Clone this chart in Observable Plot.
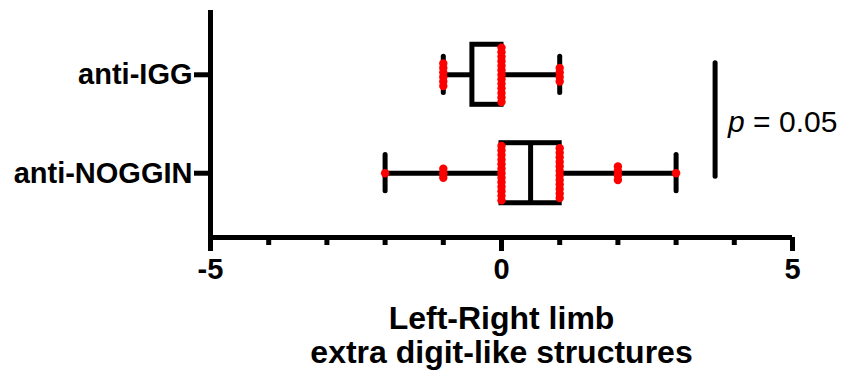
<!DOCTYPE html>
<html>
<head>
<meta charset="utf-8">
<script src="https://cdn.jsdelivr.net/npm/d3@7"></script>
<script src="https://cdn.jsdelivr.net/npm/@observablehq/plot@0.6"></script>
<style>
  html, body { margin: 0; padding: 0; background: #fff; }
</style>
</head>
<body>
<div id="chart"></div>
<script>
// Groups, top to bottom
const groups = ["anti-IGG", "anti-NOGGIN"];

// Left-right difference in extra digit-like structures, one value per embryo
const antiIGG = [
  -1, -1, -1, -1, -1, -1,
  0, 0, 0, 0, 0, 0, 0, 0, 0, 0, 0, 0, 0,
  1, 1, 1, 1
];
const antiNOGGIN = [
  -2,
  -1, -1, -1,
  0, 0, 0, 0, 0, 0, 0, 0, 0, 0, 0, 0, 0,
  1, 1, 1, 1, 1, 1, 1, 1, 1, 1, 1, 1,
  2, 2, 2, 2,
  3
];

const xMajorTicks = [-5, 0, 5];
const xMinorTicks = [-5, -4, -3, -2, -1, 0, 1, 2, 3, 4, 5];
const xTitle = ["Left-Right limb", "extra digit-like structures"];
const pSymbol = "p";
const pValueText = "= 0.05";
const bracketX = 3.67;

// Layout constants (in y-scale units: one unit between the two rows)
const rowOf = new Map([["anti-IGG", 2], ["anti-NOGGIN", 1]]);
const labelOf = new Map([[2, "anti-IGG"], [1, "anti-NOGGIN"]]);
const rowPad = 0.653;
const boxHalf = 0.305;
const capHalf = 0.184;
const dotStep = 0.046;

const valuesOf = new Map([["anti-IGG", antiIGG], ["anti-NOGGIN", antiNOGGIN]]);

// Five-number summary per group (whiskers run min to max)
const stats = groups.map(g => {
  const v = valuesOf.get(g);
  return {
    group: g,
    row: rowOf.get(g),
    min: d3.min(v),
    q1: d3.quantile(v, 0.25),
    med: d3.median(v),
    q3: d3.quantile(v, 0.75),
    max: d3.max(v)
  };
});

// Points: identical values are stacked vertically, centred on the row
const points = [];
for (const g of groups) {
  const byValue = d3.group(valuesOf.get(g), d => d);
  for (const [value, list] of byValue) {
    const k = list.length;
    list.forEach((_, i) => {
      points.push({group: g, value, y: rowOf.get(g) + (i - (k - 1) / 2) * dotStep});
    });
  }
}

const lw = 5;
const font = "Liberation Sans, Arial, Helvetica, sans-serif";

const chart = Plot.plot({
  width: 845,
  height: 376,
  marginLeft: 210,
  marginRight: 53,
  marginTop: 10,
  marginBottom: 139,
  style: {fontFamily: font, color: "#000", background: "#fff", overflow: "visible"},
  x: {domain: [-5, 5]},
  y: {domain: [1 - rowPad, 2 + rowPad]},
  marks: [
    // axis lines
    Plot.ruleX([-5], {strokeWidth: lw}),
    Plot.ruleY([1 - rowPad], {strokeWidth: lw}),
    // x axis: minor ticks at each unit, labelled major ticks
    Plot.axisX({ticks: xMinorTicks, tickSize: 8, tickFormat: () => "", strokeWidth: lw, label: null}),
    Plot.axisX({ticks: xMajorTicks, tickSize: 14, tickPadding: 7, strokeWidth: lw,
      fontSize: 29, fontWeight: "bold", tickFormat: d => String(d), label: null}),
    // y axis with group names
    Plot.axisY({ticks: [1, 2], tickFormat: d => labelOf.get(d), tickSize: 16, tickPadding: 2,
      strokeWidth: lw, fontSize: 29, fontWeight: "bold", label: null}),
    // whiskers
    Plot.ruleY(stats, {y: "row", x1: "min", x2: "q1", strokeWidth: lw}),
    Plot.ruleY(stats, {y: "row", x1: "q3", x2: "max", strokeWidth: lw}),
    Plot.ruleX(stats, {x: "min", y1: d => d.row - capHalf, y2: d => d.row + capHalf,
      strokeWidth: lw, strokeLinecap: "round"}),
    Plot.ruleX(stats, {x: "max", y1: d => d.row - capHalf, y2: d => d.row + capHalf,
      strokeWidth: lw, strokeLinecap: "round"}),
    // boxes and medians
    Plot.rect(stats, {x1: "q1", x2: "q3", y1: d => d.row - boxHalf, y2: d => d.row + boxHalf,
      fill: "#fff", stroke: "#000", strokeWidth: lw}),
    Plot.ruleX(stats, {x: "med", y1: d => d.row - boxHalf, y2: d => d.row + boxHalf, strokeWidth: lw}),
    // individual values
    Plot.dot(points, {x: "value", y: "y", r: 4.2, fill: "#ff0000", stroke: null}),
    // significance bracket
    Plot.ruleX([bracketX], {y1: 0.964, y2: 2.117, strokeWidth: 5, strokeLinecap: "round"}),
    Plot.text([pSymbol], {x: bracketX, y: 1.52, dx: 13, text: d => d, textAnchor: "start",
      fontSize: 30, fontStyle: "italic"}),
    Plot.text([pValueText], {x: bracketX, y: 1.52, dx: 38, text: d => d, textAnchor: "start",
      fontSize: 30}),
    // x axis title
    Plot.text([xTitle.join("\n")], {frameAnchor: "bottom", lineAnchor: "top", dy: 67,
      text: d => d, fontSize: 32, fontWeight: "bold", lineHeight: 1.07})
  ]
});

document.getElementById("chart").appendChild(chart);
</script>
</body>
</html>
